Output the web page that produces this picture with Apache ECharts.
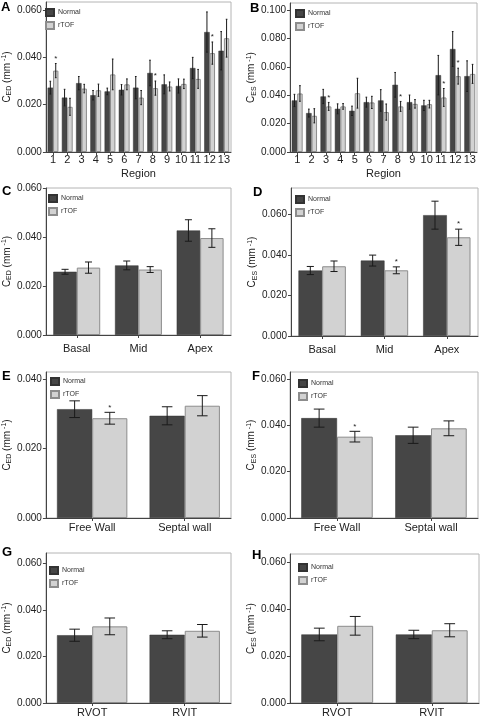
<!DOCTYPE html>
<html>
<head>
<meta charset="utf-8">
<script src="https://cdn.jsdelivr.net/npm/echarts@6/dist/echarts.min.js"></script>
<style>
html,body{margin:0;padding:0;background:#fff;}
#chart{width:480px;height:718px;}
</style>
</head>
<body>
<div id="chart"></div>
<script>
// ---------- DATA ----------
const regions = ['1','2','3','4','5','6','7','8','9','10','11','12','13'];
const levels = ['Basal','Mid','Apex'];
const walls = ['Free Wall','Septal wall'];
const tracts = ['RVOT','RVIT'];

// A: C_ED by region
const aNormal    = [0.0272,0.0230,0.0291,0.0240,0.0256,0.0263,0.0272,0.0334,0.0286,0.0279,0.0355,0.0507,0.0428];
const aNormalErr = [0.0027,0.0035,0.0028,0.0020,0.0014,0.0022,0.0047,0.0054,0.0040,0.0030,0.0045,0.0085,0.0081];
const aRtof      = [0.0344,0.0191,0.0268,0.0261,0.0328,0.0286,0.0230,0.0270,0.0277,0.0288,0.0309,0.0418,0.0481];
const aRtofErr   = [0.0030,0.0036,0.0018,0.0026,0.0065,0.0023,0.0030,0.0030,0.0019,0.0020,0.0040,0.0047,0.0080];
const aSig       = [1,0,0,0,0,0,0,1,0,0,0,1,0];

// B: C_ES by region
const bNormal    = [0.0363,0.0274,0.0391,0.0304,0.0290,0.0351,0.0363,0.0473,0.0351,0.0328,0.0541,0.0725,0.0534];
const bNormalErr = [0.0043,0.0028,0.0050,0.0035,0.0033,0.0035,0.0076,0.0087,0.0050,0.0036,0.0139,0.0123,0.0108];
const bRtof      = [0.0412,0.0255,0.0321,0.0321,0.0414,0.0349,0.0281,0.0321,0.0339,0.0337,0.0384,0.0534,0.0550];
const bRtofErr   = [0.0055,0.0050,0.0028,0.0020,0.0105,0.0043,0.0057,0.0035,0.0030,0.0027,0.0063,0.0056,0.0067];
const bSig       = [0,0,1,0,0,0,0,1,0,0,1,1,0];

// C: C_ED by level
const cNormal    = [0.0259,0.0285,0.0428];
const cNormalErr = [0.0010,0.0018,0.0044];
const cRtof      = [0.0276,0.0268,0.0397];
const cRtofErr   = [0.0023,0.0012,0.0038];
const cSig       = [0,0,0];

// D: C_ES by level
const dNormal    = [0.0323,0.0372,0.0596];
const dNormalErr = [0.0020,0.0027,0.0069];
const dRtof      = [0.0344,0.0324,0.0487];
const dRtofErr   = [0.0026,0.0017,0.0040];
const dSig       = [0,1,1];

// E: C_ED by wall
const eNormal    = [0.0313,0.0294];
const eNormalErr = [0.0024,0.0026];
const eRtof      = [0.0287,0.0323];
const eRtofErr   = [0.0017,0.0029];
const eSig       = [1,0];

// F: C_ES by wall
const fNormal    = [0.0431,0.0357];
const fNormalErr = [0.0039,0.0035];
const fRtof      = [0.0351,0.0387];
const fRtofErr   = [0.0023,0.0032];
const fSig       = [1,0];

// G: C_ED by tract
const gNormal    = [0.0291,0.0293];
const gNormalErr = [0.0026,0.0017];
const gRtof      = [0.0329,0.0310];
const gRtofErr   = [0.0036,0.0027];
const gSig       = [0,0];

// H: C_ES by tract
const hNormal    = [0.0293,0.0293];
const hNormalErr = [0.0027,0.0018];
const hRtof      = [0.0330,0.0311];
const hRtofErr   = [0.0040,0.0028];
const hSig       = [0,0];

const ticks04 = [0,0.02,0.04];
const ticks06 = [0,0.02,0.04,0.06];
const ticks10 = [0,0.02,0.04,0.06,0.08,0.10];

// ---------- LAYOUT ----------
const FONT = 'Liberation Sans, Arial, sans-serif';
const GAP = 0.24;
const panels = [
  {letter:'A', sub:'ED', cats:regions, n:aNormal, ne:aNormalErr, r:aRtof, re:aRtofErr, sig:aSig, ticks:ticks06, yMax:0.0634,
   grid:{left:42,top:2,width:189,height:150}, xName:'Region', lblMargin:2, lt:[1,3], leg:[45,8], cap:0.3},
  {letter:'B', sub:'ES', cats:regions, n:bNormal, ne:bNormalErr, r:bRtof, re:bRtofErr, sig:bSig, ticks:ticks10, yMax:0.1049,
   grid:{left:290,top:3,width:187,height:149}, xName:'Region', lblMargin:2, lt:[250,4], leg:[295,9], cap:0.3},
  {letter:'C', sub:'ED', cats:levels, n:cNormal, ne:cNormalErr, r:cRtof, re:cRtofErr, sig:cSig, ticks:ticks06, yMax:0.0602,
   grid:{left:43,top:188,width:188,height:147}, xName:'', lblMargin:8, lt:[2,187], leg:[48,194], cap:0.3},
  {letter:'D', sub:'ES', cats:levels, n:dNormal, ne:dNormalErr, r:dRtof, re:dRtofErr, sig:dSig, ticks:ticks06, yMax:0.073,
   grid:{left:291,top:188,width:187,height:148}, xName:'', lblMargin:8, lt:[253,188], leg:[295,195], cap:0.3},
  {letter:'E', sub:'ED', cats:walls, n:eNormal, ne:eNormalErr, r:eRtof, re:eRtofErr, sig:eSig, ticks:ticks04, yMax:0.042,
   grid:{left:43,top:372,width:188,height:146}, xName:'', lblMargin:4, lt:[2,372], leg:[50,377], cap:0.3},
  {letter:'F', sub:'ES', cats:walls, n:fNormal, ne:fNormalErr, r:fRtof, re:fRtofErr, sig:fSig, ticks:ticks06, yMax:0.063,
   grid:{left:290,top:372,width:188,height:146}, xName:'', lblMargin:4, lt:[252,372], leg:[298,379], cap:0.3},
  {letter:'G', sub:'ED', cats:tracts, n:gNormal, ne:gNormalErr, r:gRtof, re:gRtofErr, sig:gSig, ticks:ticks06, yMax:0.0644,
   grid:{left:43,top:553,width:188,height:150}, xName:'', lblMargin:4, lt:[2,548], leg:[49,566], cap:0.3},
  {letter:'H', sub:'ES', cats:tracts, n:hNormal, ne:hNormalErr, r:hRtof, re:hRtofErr, sig:hSig, ticks:ticks06, yMax:0.0637,
   grid:{left:290,top:554,width:189,height:149}, xName:'', lblMargin:4, lt:[252,551], leg:[298,563], cap:0.3}
];

const NORMAL_COLOR = '#464646';
const RTOF_COLOR = '#d2d2d2';

function makeErrRender(capRatio){
  return function(params, api){
    const ci = api.value(0), v = api.value(1), e = api.value(2), side = api.value(3), sig = api.value(4);
    const band = api.size([1,0])[0];
    const bw = band*(1-GAP)/2;
    const cx = api.coord([ci, v])[0] + side*bw/2;
    const yTop = api.coord([ci, v+e])[1];
    const yBot = api.coord([ci, v-e])[1];
    const half = bw*capRatio/2;
    const st = {stroke:'#1a1a1a', lineWidth:1};
    const children = [
      {type:'line', shape:{x1:cx,y1:yTop,x2:cx,y2:yBot}, style:st},
      {type:'line', shape:{x1:cx-half,y1:yTop,x2:cx+half,y2:yTop}, style:st},
      {type:'line', shape:{x1:cx-half,y1:yBot,x2:cx+half,y2:yBot}, style:st}
    ];
    if (sig) {
      children.push({type:'text', x:cx, y:yTop-1, style:{text:'*', fill:'#222', fontSize:8, fontFamily:FONT, align:'center', verticalAlign:'bottom'}});
    }
    return {type:'group', children:children};
  };
}

const option = {
  animation:false,
  backgroundColor:'#fff',
  grid:[], xAxis:[], yAxis:[], series:[], legend:[], graphic:[]
};

panels.forEach((p, i) => {
  option.grid.push(Object.assign({show:true, borderColor:'#b4b4b4', borderWidth:1, backgroundColor:'transparent'}, p.grid));
  option.xAxis.push({
    type:'category', gridIndex:i, data:p.cats,
    name:p.xName, nameLocation:'middle', nameGap:16,
    nameTextStyle:{fontSize:11, color:'#222', fontFamily:FONT},
    axisLine:{lineStyle:{color:'#444', width:1}},
    axisTick:{show:true, alignWithLabel:true, length:3, lineStyle:{color:'#444'}},
    axisLabel:{fontSize:11, color:'#222', fontFamily:FONT, margin:p.lblMargin, interval:0}
  });
  option.yAxis.push({
    type:'value', gridIndex:i, min:0, max:p.yMax,
    name:'{c|C}{s|' + p.sub + '}{c| (mm}{p| -1}{c|)}',
    nameLocation:'middle', nameRotate:90, nameGap:26,
    nameTextStyle:{color:'#222', fontFamily:FONT,
      rich:{c:{fontSize:10, color:'#222', fontFamily:FONT, verticalAlign:'middle'},
            s:{fontSize:7, color:'#222', fontFamily:FONT, verticalAlign:'bottom', padding:[4,0,0,0]},
            p:{fontSize:7, color:'#222', fontFamily:FONT, verticalAlign:'top', padding:[0,0,5,0]}}},
    splitLine:{show:false},
    axisLine:{show:true, lineStyle:{color:'#444', width:1}},
    axisTick:{show:true, length:3, customValues:p.ticks, lineStyle:{color:'#444'}},
    axisLabel:{fontSize:10, color:'#222', fontFamily:FONT, margin:4, customValues:p.ticks,
      formatter:v => v.toFixed(3)}
  });
  option.series.push({
    name:'Normal', type:'bar', xAxisIndex:i, yAxisIndex:i, data:p.n,
    barGap:'0%', barCategoryGap:(GAP*100)+'%',
    itemStyle:{color:NORMAL_COLOR, borderColor:'#333', borderWidth:0.5}
  });
  option.series.push({
    name:'rTOF', type:'bar', xAxisIndex:i, yAxisIndex:i, data:p.r,
    barGap:'0%', barCategoryGap:(GAP*100)+'%',
    itemStyle:{color:RTOF_COLOR, borderColor:'#8c8c8c', borderWidth:1}
  });
  const errData = [];
  p.cats.forEach((c, k) => {
    errData.push([k, p.n[k], p.ne[k], -1, 0]);
    errData.push([k, p.r[k], p.re[k], 1, p.sig[k]]);
  });
  option.series.push({
    name:'err'+p.letter, type:'custom', xAxisIndex:i, yAxisIndex:i, z:5,
    renderItem:makeErrRender(p.cap), data:errData, silent:true
  });
  option.legend.push({
    data:['Normal','rTOF'], orient:'vertical', left:p.leg[0], top:p.leg[1], padding:0,
    itemWidth:8, itemHeight:7, itemGap:4, icon:'rect', selectedMode:false,
    textStyle:{fontSize:7, color:'#333', fontFamily:FONT, padding:[0,0,0,-1]}
  });
  option.graphic.push({
    type:'text', left:p.lt[0], top:p.lt[1]-2,
    style:{text:p.letter, fontSize:13, fontWeight:'bold', fill:'#000', fontFamily:FONT}
  });
});

const chart = echarts.init(document.getElementById('chart'), null, {renderer:'canvas'});
chart.setOption(option);
</script>
</body>
</html>
